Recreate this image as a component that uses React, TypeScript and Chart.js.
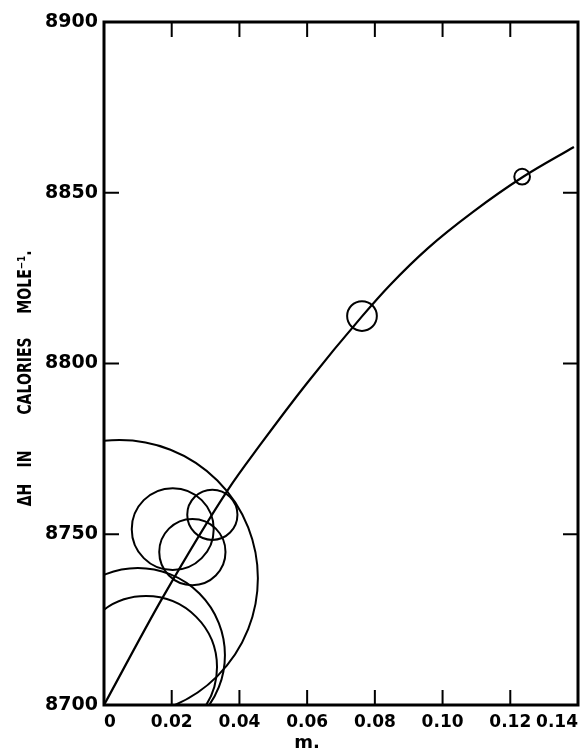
import React, { useEffect, useRef } from 'react';
import { Chart, registerables } from 'chart.js';

Chart.register(...registerables);

// Smooth curve drawn through the data (molality m, ΔH in cal/mole)
const curveM = [0, 0.0174, 0.0366, 0.046, 0.060, 0.0762, 0.0845, 0.0957, 0.109, 0.1237, 0.1388];
const curveH = [8700, 8731.6, 8763, 8776, 8794.3, 8813.8, 8823, 8833.8, 8844.4, 8854.6, 8863.4];

// Experimental points, drawn as circles whose radius is the uncertainty (cal/mole)
const pointM = [0.0046, 0.0100, 0.0124, 0.0203, 0.0261, 0.0320, 0.0762, 0.1235];
const pointH = [8737.1, 8714.6, 8711.1, 8751.5, 8744.8, 8755.7, 8813.9, 8854.7];
const pointErr = [40.5, 25.5, 20.8, 12.0, 9.7, 7.35, 4.35, 2.3];

const xMin = 0;
const xMax = 0.14;
const xStep = 0.02;
const yMin = 8700;
const yMax = 8900;
const yStep = 50;

const xTitle = 'm.';
const yTitleWords = ['ΔH', 'IN', 'CALORIES', 'MOLE⁻¹.'];

const framePlugin = {
  id: 'frameAndTitles',
  afterDraw(chart: any) {
    const { ctx, chartArea: a, scales } = chart;
    const xs = scales.x;
    const ys = scales.y;
    ctx.save();
    ctx.strokeStyle = '#000';
    ctx.lineWidth = 3;
    ctx.strokeRect(a.left, a.top, a.right - a.left, a.bottom - a.top);
    ctx.lineWidth = 2;
    const tl = 15;
    ctx.beginPath();
    xs.ticks.forEach((t: any) => {
      if (t.value <= xs.min + 1e-9 || t.value >= xs.max - 1e-9) return;
      const px = xs.getPixelForValue(t.value);
      ctx.moveTo(px, a.bottom);
      ctx.lineTo(px, a.bottom - tl);
      ctx.moveTo(px, a.top);
      ctx.lineTo(px, a.top + tl);
    });
    ys.ticks.forEach((t: any) => {
      if (t.value <= ys.min + 1e-9 || t.value >= ys.max - 1e-9) return;
      const py = ys.getPixelForValue(t.value);
      ctx.moveTo(a.left, py);
      ctx.lineTo(a.left + tl, py);
      ctx.moveTo(a.right, py);
      ctx.lineTo(a.right - tl, py);
    });
    ctx.stroke();

    // x title
    ctx.fillStyle = '#000';
    ctx.textAlign = 'center';
    ctx.textBaseline = 'middle';
    ctx.font = 'bold 18px "DejaVu Sans"';
    ctx.fillText(xTitle, 307, 743);

    // y title (rotated, condensed lettering)
    const centers = [495, 459, 376, 282];
    ctx.font = 'bold 19px "DejaVu Sans"';
    yTitleWords.forEach((w, i) => {
      ctx.save();
      ctx.translate(26, centers[i]);
      ctx.rotate(-Math.PI / 2);
      ctx.scale(0.74, 1);
      ctx.fillText(w, 0, 0);
      ctx.restore();
    });
    ctx.restore();
  },
};

export default function App() {
  const canvasRef = useRef<HTMLCanvasElement | null>(null);

  useEffect(() => {
    const canvas = canvasRef.current;
    if (!canvas) return;
    const radiusFor = (c: any) => {
      const y = c.chart.scales.y;
      const err = pointErr[c.dataIndex] ?? 0;
      if (!y) return 3;
      return Math.abs(y.getPixelForValue(yMin + err) - y.getPixelForValue(yMin));
    };
    const chart = new Chart(canvas, {
      type: 'scatter',
      data: {
        datasets: [
          {
            label: 'curve',
            data: curveM.map((x, i) => ({ x, y: curveH[i] })),
            showLine: true,
            borderColor: '#000',
            borderWidth: 2.2,
            pointRadius: 0,
            fill: false,
            cubicInterpolationMode: 'monotone',
            clip: 0,
          } as any,
          {
            label: 'points',
            data: pointM.map((x, i) => ({ x, y: pointH[i] })),
            showLine: false,
            pointRadius: radiusFor,
            pointHoverRadius: radiusFor,
            pointBorderWidth: 2,
            pointBorderColor: '#000',
            pointBackgroundColor: 'rgba(0,0,0,0)',
            clip: 0,
          } as any,
        ],
      },
      options: {
        responsive: false,
        animation: false,
        events: [],
        layout: { padding: { top: 22, right: 7, left: 0, bottom: 0 } },
        plugins: {
          legend: { display: false },
          tooltip: { enabled: false },
        },
        scales: {
          x: {
            type: 'linear',
            min: xMin,
            max: xMax,
            border: { display: false },
            grid: { display: false, drawTicks: false },
            ticks: {
              stepSize: xStep,
              color: '#000',
              autoSkip: false,
              maxRotation: 0,
              align: 'inner',
              padding: 7,
              font: { family: 'DejaVu Sans', size: 17, weight: 'bold' },
              callback: (v: any) => (Math.abs(v) < 1e-9 ? '0' : Number(v).toFixed(2)),
            },
            afterFit: (s: any) => {
              s.height = 48;
              s.paddingLeft = 0;
              s.paddingRight = 0;
            },
          },
          y: {
            type: 'linear',
            min: yMin,
            max: yMax,
            border: { display: false },
            grid: { display: false, drawTicks: false },
            ticks: {
              stepSize: yStep,
              color: '#000',
              padding: 6,
              font: { family: 'DejaVu Sans', size: 19, weight: 'bold' },
              callback: (v: any) => String(Math.round(Number(v))),
            },
            afterFit: (s: any) => {
              s.width = 104;
              s.paddingTop = 0;
              s.paddingBottom = 0;
            },
          },
        },
      } as any,
      plugins: [framePlugin],
    });
    return () => chart.destroy();
  }, []);

  return (
    <div style={{ position: 'absolute', left: 0, top: 0, width: 585, height: 753, background: '#fff' }}>
      <canvas ref={canvasRef} width={585} height={753} />
    </div>
  );
}
